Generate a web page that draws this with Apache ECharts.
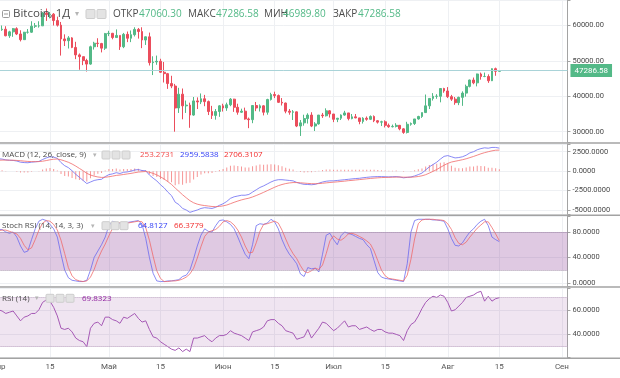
<!DOCTYPE html>
<html><head><meta charset="utf-8">
<script src="https://cdn.jsdelivr.net/npm/echarts@6.0.0/dist/echarts.min.js"></script>
<style>html,body{margin:0;padding:0;background:#fff}#c{width:620px;height:378px}</style>
</head><body><div id="c"></div>
<script>
// ---------- DATA ----------
const firstDay = [2021, 3, 1];   // 1 Apr 2021 (month is 0-based)
const dayCount = 155;            // Apr 1 .. Sep 2 (axis span)
const monthNames = ['Янв','Фев','Мар','Апр','Май','Июн','Июл','Авг','Сен','Окт','Ноя','Дек'];

const open = [58750,58800,58950,57100,58200,59100,57600,56000,58100,58100,59800,59900,59900,63500,63100,63200,61400,60100,56200,55700,56500,53800,51700,51200,50100,49100,54000,55000,54900,53600,
57700,57800,56600,57200,54000,57500,56400,57400,58900,58300,55900,56800,49500,49700,49900,46800,46400,43600,42900,36700,40600,37300,37500,34700,38700,38400,39300,38500,35700,34600,35700,
37300,36700,37600,39200,36900,35500,35800,33600,33400,37400,36700,37300,35500,39100,40500,40200,38300,38100,35800,35500,35600,31600,32500,33700,34700,31600,32200,34700,34500,35900,
35000,33500,33800,34700,35300,33700,34200,33900,32900,33800,33500,34300,33100,32700,32800,31800,31400,31500,31800,30800,29800,32100,32300,33600,34300,35400,37300,39400,40000,40000,42200,
41500,39900,39200,38200,39700,40900,42800,44600,43800,46300,45600,45600,44400,47800,47060.30];
const close = [58800,58950,57100,58200,59100,57600,56000,58100,58100,59800,59900,59900,63500,63100,63200,61400,60100,56200,55700,56500,53800,51700,51200,50100,49100,54000,55000,54900,53600,57700,
57800,56600,57200,54000,57500,56400,57400,58900,58300,55900,56800,49500,49700,49900,46800,46400,43600,42900,36700,40600,37300,37500,34700,38700,38400,39300,38500,35700,34600,35700,37300,
36700,37600,39200,36900,35500,35800,33600,33400,37400,36700,37300,35500,39100,40500,40200,38300,38100,35800,35500,35600,31600,32500,33700,34700,31600,32200,34700,34500,35900,35000,
33500,33800,34700,35300,33700,34200,33900,32900,33800,33500,34300,33100,32700,32800,31800,31400,31500,31800,30800,29800,32100,32300,33600,34300,35400,37300,39400,40000,40000,42200,41500,
39900,39200,38200,39700,40900,42800,44600,43800,46300,45600,45600,44400,47800,47060.30,47286.58];
const high = [59450,60000,59800,58500,59300,59500,58650,58200,59000,61200,60700,61200,63800,64800,63800,63500,62500,61000,57500,57000,56700,55400,52100,51200,50600,54300,55400,56400,55100,57900,
58500,57900,58900,57200,57900,58300,58600,59500,59300,59500,56900,58000,51300,51500,50600,49700,46600,45800,43500,42400,42200,38800,38200,39800,39700,40800,40400,38800,37300,36400,37500,
37900,38200,39500,39300,37900,36500,36800,34000,37500,38400,37700,37500,39300,41000,41300,40500,39500,38200,36400,36100,35700,33300,34800,35200,35500,32700,34700,35300,36600,36100,
35000,33900,34900,35900,35300,35000,35000,33900,34100,34300,34600,34600,33300,33100,33200,32300,32000,32400,31900,31000,32800,32600,33600,34500,35400,40500,39500,40900,40600,42300,42400,
42600,40400,39800,39900,41400,43300,44700,45300,46400,46700,46700,46200,47900,48100,47286.58];
const low = [57950,58500,56950,56500,56800,57300,55500,55900,57700,57900,59300,59400,59900,61300,62000,60000,59700,51500,54200,53500,53600,50500,47500,48800,47000,48900,53200,53900,52400,53100,
57000,56100,56500,53100,53600,55300,55300,56900,56300,53600,54500,48700,46000,48900,46600,43900,42100,42300,30000,35300,33500,35300,31100,34500,36400,37800,37200,34700,33600,33400,34200,
35700,35900,37200,35600,34800,35300,33400,31000,32400,35800,35700,34600,34800,38800,39500,38100,37400,35200,34800,33300,31300,28800,31700,32300,31300,30200,32000,33900,34300,34000,
32700,32700,33300,34500,33200,33500,33800,32100,32300,33100,33300,32700,32300,31600,31200,31100,31200,31200,30400,29400,29500,31700,31900,33400,33900,35300,36400,38800,39300,38300,41000,
39500,38700,37600,37500,37300,39900,42500,43400,42800,44700,45400,43800,44300,45800,46989.80];

const macdLine = [1600,1550,1450,1400,1380,1300,1150,1100,1080,1150,1200,1250,1500,1700,1850,1800,1650,
1100,700,450,50,-400,-800,-1200,-1600,-1400,-1200,-1100,-1050,-700,
-450,-350,-200,-300,-150,-100,0,150,200,80,50,
-500,-900,-1250,-1750,-2150,-2700,-3150,-4000,-4300,-4800,-5000,-5300,-5150,-5000,-4800,-4700,-4750,-4800,-4650,-4400,-4200,-3900,-3500,
-3300,-3200,-3100,-3100,-3000,-2700,-2400,-2100,-1900,-1650,-1400,-1200,-1100,-1100,-1150,-1200,-1250,-1450,-1600,-1700,-1720,-1750,-1700,-1550,-1400,-1300,-1250,-1250,-1200,-1150,-1100,
-1050,-1000,-950,-920,-850,-800,-750,-720,-700,-700,-720,-740,-720,-700,-760,-860,-800,-750,-620,-450,
-250,150,550,850,1150,1550,1900,2000,1850,1700,1750,1850,2050,2350,2500,2750,2900,3000,2950,3050,3050,2959.5838];
const signalLine = [1400,1420,1420,1410,1400,1380,1340,1290,1250,1230,
1220,1230,1280,1360,1460,1530,1560,1460,1310,1140,
920,650,350,50,-280,-500,-650,-750,-810,-790,
-720,-640,-550,-500,-430,-360,-290,-200,-120,-80,
-50,-140,-290,-480,-730,-1010,-1350,-1710,-2170,-2600,
-3040,-3430,-3800,-4070,-4250,-4360,-4430,-4490,-4550,-4570,
-4540,-4470,-4360,-4190,-4010,-3850,-3700,-3580,-3480,-3320,
-3140,-2940,-2730,-2510,-2290,-2070,-1870,-1720,-1600,-1520,
-1470,-1470,-1500,-1540,-1580,-1610,-1620,-1600,-1560,-1510,
-1460,-1420,-1380,-1330,-1290,-1230,-1190,-1140,-1090,-1040,
-990,-940,-900,-860,-830,-810,-800,-780,-770,-760,
-780,-780,-780,-750,-690,-600,-460,-250,-30,210,
480,760,1000,1170,1270,1370,1470,1590,1740,1890,
2060,2230,2380,2500,2610,2690,2706.3107];
const macdHist = [200,130,30,-10,-20,-80,-190,-190,-170,-80,
-20,20,220,340,390,270,90,-360,-610,-690,
-870,-1050,-1150,-1250,-1320,-900,-550,-350,-240,90,
270,290,350,200,280,260,290,350,320,160,
100,-360,-610,-770,-1020,-1140,-1350,-1440,-1830,-1700,
-1760,-1570,-1500,-1080,-750,-440,-270,-260,-250,-80,
140,270,460,690,710,650,600,480,480,620,
740,840,830,860,890,870,770,620,450,320,
220,20,-100,-160,-140,-140,-80,50,160,210,
210,170,180,180,190,180,190,190,170,190,
190,190,180,160,130,90,60,60,70,0,
-80,-20,30,130,240,350,610,800,880,940,
1070,1140,1000,680,430,380,380,460,610,610,
690,670,620,450,440,360,253.2731];

const stochK = [84,84,80,78,80,72,58,48,50,68,
85,97,100,98,92,85,72,45,20,8,
4,3,2,2,4,20,40,50,60,72,
90,97,95,93,94,95,96,97,98,92,
70,40,15,3,2,2,3,3,4,5,
10,12,20,38,58,75,85,81,80,90,
98,99,96,92,85,72,58,45,38,60,
90,93,92,94,100,96,85,68,55,45,
38,30,14,10,24,22,23,17,45,75,
78,68,60,74,80,78,76,73,70,68,
60,54,35,16,9,7,6,5,4,3,
2,30,80,98,100,100,100,100,99,99,
98,97,85,70,59,58,63,72,80,85,
92,97,100,90,72,68,64.8127];
const stochD = [82,83,83,81,79,77,70,59,52,55,
68,83,94,98,97,92,83,67,46,24,
11,5,3,2,3,9,21,37,50,61,
74,86,94,95,94,94,95,96,97,96,
87,67,42,19,7,2,2,3,3,4,
6,9,14,23,39,57,73,80,82,84,
89,96,98,96,91,83,72,58,47,48,
63,81,92,93,95,97,94,83,69,56,
46,38,27,18,16,19,23,21,28,46,
66,74,69,67,71,77,78,76,73,70,
66,61,50,35,20,11,7,6,5,4,
3,12,37,69,93,99,100,100,100,99,
99,98,93,84,71,62,60,64,72,79,
86,91,96,96,87,77,66.3779];
const rsi = [60,59,57,58,59,55,51,54,55,57,
57,60,66,68,67,62,55,45,44,45,
42,37,35,34,30,45,49,50,47,54,
54,52,51,49,54,53,55,57,53,50,
51,44,38,37,34,32,30,28,27,29,
26,28,26,37,37,38,39,36,34,37,
39,39,40,43,41,40,39,37,35,42,
43,44,46,51,52,52,49,47,43,42,
41,36,37,38,44,37,41,45,50,49,
46,43,45,48,51,46,47,47,44,45,
46,44,42.5,44,44,42,41,41,40,39,
35,43,48,50,55,61,66,69,71,70,
72,71,66,59,60,63,66,70,71,72,
74,75,67,71,67,69,69.8323];

const stochBand = [20, 80];
const rsiBand = [30, 70];

// ---------- BUILD ----------
const categories = [];
for (let i = 0; i < dayCount; i++) {
  const d = new Date(Date.UTC(firstDay[0], firstDay[1], firstDay[2] + i));
  categories.push(d.toISOString().slice(0, 10));
}
const isMark = v => v.slice(8) === '01' || v.slice(8) === '15';
const markText = v => v.slice(8) === '01' ? monthNames[+v.slice(5, 7) - 1] : (v.slice(8) === '15' ? '15' : '');

const UP = '#53b987', DOWN = '#eb4d5c';
const GRID_LINE = '#eef0f3';
const AX = '#a3a3a3';
const L = -3.44, W = 570.9;

function xAx(gi, showLabels) {
  return {
    type: 'category', gridIndex: gi, data: categories, boundaryGap: true,
    axisLine: { show: false }, axisTick: { show: false },
    axisLabel: { show: showLabels, interval: (i, v) => isMark(v), formatter: v => markText(v),
      fontSize: 8, color: '#555', margin: 5, fontFamily: 'Roboto' },
    splitLine: { show: true, interval: (i, v) => isMark(v), alignWithLabel: true, lineStyle: { color: GRID_LINE, width: 1 } }
  };
}
function yAx(gi, min, max, step, dec) {
  return {
    type: 'value', gridIndex: gi, position: 'right', min: min, max: max,
    minInterval: step, maxInterval: step, splitNumber: Math.round((max - min) / step),
    axisLine: { show: true, lineStyle: { color: AX, width: 1 } },
    axisTick: { show: true, length: 3, lineStyle: { color: AX } },
    splitLine: { show: true, lineStyle: { color: GRID_LINE, width: 1 } },
    axisLabel: { fontSize: 7.5, color: '#4a4a4a', margin: 5, fontFamily: 'Roboto',
      formatter: v => (Math.abs(v / step - Math.round(v / step)) < 1e-6 ? v.toFixed(dec) : '') }
  };
}
const gridBox = (top, height) => ({ left: L, width: W, top: top, height: height,
  containLabel: false, outerBoundsMode: 'none' });

const last = close.length - 1;
const F = '"Open Sans"';
const T = (text, x, y, size, fill, fam) => ({ type: 'text', x: x, y: y, z: 100,
  style: { text: text, fill: fill, fontSize: size, fontFamily: fam || F, verticalAlign: 'middle' } });
const icon = (x, y, s) => ({ type: 'rect', z: 100, shape: { x: x, y: y, width: s, height: s, r: 1 },
  style: { fill: '#e3e3e3', stroke: '#cdcdcd', lineWidth: 1 } });
const sep = y => ({ type: 'line', z: 90, shape: { x1: 0, y1: y, x2: 620, y2: y }, style: { stroke: AX, lineWidth: 1.5 } });

const graphic = [
  sep(143), sep(215.3), sep(287), sep(358.3),
  { type: 'rect', z: 100, shape: { x: 2.5, y: 10.5, width: 7, height: 7, r: 1 }, style: { fill: 'none', stroke: '#9b9b9b', lineWidth: 1 } },
  { type: 'line', z: 100, shape: { x1: 4, y1: 14, x2: 8, y2: 14 }, style: { stroke: '#9b9b9b', lineWidth: 1 } },
  T('Bitcoin, 1Д', 13, 14, 11.5, '#4b4b4b'),
  T('▾', 75, 14, 8, '#b5b5b5', '"DejaVu Sans"'),
  icon(86, 9.5, 9), icon(97, 9.5, 9),
  T('ОТКР', 113, 14, 10, '#4b4b4b'), T(open[last].toFixed(2), 139, 14, 10, UP),
  T('МАКС', 188, 14, 10, '#4b4b4b'), T(high[last].toFixed(2), 216, 14, 10, UP),
  T('МИН', 264, 14, 10, '#4b4b4b'), T(low[last].toFixed(2), 283, 14, 10, UP),
  T('ЗАКР', 333, 14, 10, '#4b4b4b'), T(close[last].toFixed(2), 358, 14, 10, UP),

  T('MACD (12, 26, close, 9)', 2, 155, 8, '#4b4b4b'),
  T('▾', 93, 155, 7, '#b5b5b5', '"DejaVu Sans"'),
  icon(102, 151, 8), icon(112, 151, 8), icon(122, 151, 8),
  T(macdHist[last].toFixed(4), 140, 155, 8, '#f24848'),
  T(macdLine[last].toFixed(4), 180, 155, 8, '#2f3cf5'),
  T(signalLine[last].toFixed(4), 224, 155, 8, '#f22a2a'),

  T('Stoch RSI (14, 14, 3, 3)', 2, 225.7, 8, '#4b4b4b'),
  T('▾', 91, 225.7, 7, '#b5b5b5', '"DejaVu Sans"'),
  icon(102, 221.7, 8), icon(111, 221.7, 8), icon(120, 221.7, 8),
  T(stochK[last].toFixed(4), 138, 225.7, 8, '#2f3cf5'),
  T(stochD[last].toFixed(4), 174, 225.7, 8, '#f22a2a'),

  T('RSI (14)', 2, 298.3, 8, '#4b4b4b'),
  T('▾', 35, 298.3, 7, '#b5b5b5', '"DejaVu Sans"'),
  icon(46, 294.3, 8), icon(56, 294.3, 8), icon(66, 294.3, 8),
  T(rsi[last].toFixed(4), 82, 298.3, 8, '#8e1f9e')
];

const chart = echarts.init(document.getElementById('c'), null, { renderer: 'canvas' });
chart.setOption({
  animation: false,
  backgroundColor: '#fff',
  textStyle: { fontFamily: 'Roboto' },
  grid: [gridBox(0, 142), gridBox(144, 70), gridBox(216.5, 69.5), gridBox(288, 69.5)],
  xAxis: [xAx(0, false), xAx(1, false), xAx(2, false), xAx(3, true)],
  yAxis: [
    yAx(0, 27090, 67203, 10000, 2),
    yAx(1, -5515, 3492, 2500, 4),
    yAx(2, -5, 104.4, 40, 4),
    yAx(3, 21.2, 77.7, 20, 4)
  ],
  graphic: graphic,
  series: [
    {
      type: 'candlestick', xAxisIndex: 0, yAxisIndex: 0, barWidth: 2.3,
      data: open.map((o, i) => [o, close[i], low[i], high[i]]),
      itemStyle: { color: UP, color0: DOWN, borderColor: UP, borderColor0: DOWN, borderWidth: 1 },
      markLine: {
        silent: true, symbol: ['none', 'none'], animation: false,
        lineStyle: { color: '#a9d3d8', width: 1, type: 'solid' },
        label: { show: true, position: 'end', distance: 3, formatter: p => (+p.value).toFixed(2),
          backgroundColor: UP, color: '#fff', fontSize: 8, padding: [3, 4, 2, 4], fontFamily: 'Roboto' },
        data: [{ yAxis: close[last] }]
      }
    },
    { type: 'bar', xAxisIndex: 1, yAxisIndex: 1, data: macdHist, barWidth: 1,
      itemStyle: { color: 'rgba(240,80,80,0.6)' } },
    { type: 'line', xAxisIndex: 1, yAxisIndex: 1, data: macdLine, showSymbol: false,
      lineStyle: { color: '#6b6bf2', width: 1, opacity: 0.8 } },
    { type: 'line', xAxisIndex: 1, yAxisIndex: 1, data: signalLine, showSymbol: false,
      lineStyle: { color: '#f06a6a', width: 1, opacity: 0.8 } },
    { type: 'line', xAxisIndex: 2, yAxisIndex: 2, data: stochK, showSymbol: false,
      lineStyle: { color: '#6464f0', width: 1, opacity: 0.75 },
      markArea: { silent: true, itemStyle: { color: 'rgba(128,40,140,0.25)' },
        data: [[{ yAxis: stochBand[0] }, { yAxis: stochBand[1] }]] },
      markLine: { silent: true, symbol: ['none', 'none'], label: { show: false },
        lineStyle: { color: '#a08aa6', width: 1, type: 'dotted' },
        data: [{ yAxis: stochBand[0] }, { yAxis: stochBand[1] }] } },
    { type: 'line', xAxisIndex: 2, yAxisIndex: 2, data: stochD, showSymbol: false,
      lineStyle: { color: '#f06464', width: 1, opacity: 0.75 } },
    { type: 'line', xAxisIndex: 3, yAxisIndex: 3, data: rsi, showSymbol: false,
      lineStyle: { color: '#a559b5', width: 1 },
      markArea: { silent: true, itemStyle: { color: 'rgba(128,40,140,0.12)' },
        data: [[{ yAxis: rsiBand[0] }, { yAxis: rsiBand[1] }]] },
      markLine: { silent: true, symbol: ['none', 'none'], label: { show: false },
        lineStyle: { color: '#b79fbd', width: 1, type: 'dotted' },
        data: [{ yAxis: rsiBand[0] }, { yAxis: rsiBand[1] }] } }
  ]
});
</script>
</body></html>
